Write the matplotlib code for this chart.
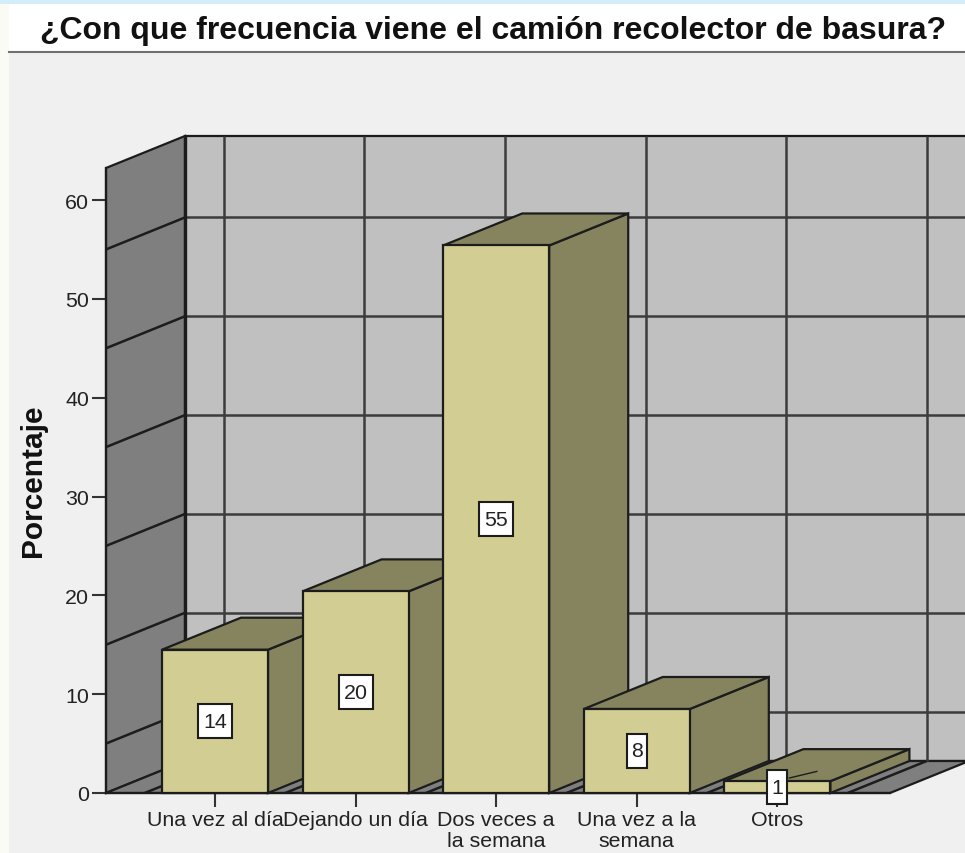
"""SPSS style 3D bar chart of garbage truck frequency."""

import matplotlib

matplotlib.use("Agg")

import matplotlib.pyplot as plt
from matplotlib.patches import Polygon, Rectangle

plt.rcParams["font.family"] = ["Liberation Sans", "DejaVu Sans"]

TITLE = "¿Con que frecuencia viene el camión recolector de basura?"
Y_LABEL = "Porcentaje"
categories = [
    "Una vez al día",
    "Dejando un día",
    "Dos veces a\nla semana",
    "Una vez a la\nsemana",
    "Otros",
]
percent = [14.5, 20.4, 55.4, 8.5, 1.2]
value_labels = ["14", "20", "55", "8", "1"]
y_ticks = [0, 10, 20, 30, 40, 50, 60]
grid_y = [5, 15, 25, 35, 45, 55]
grid_x = [-0.5, 0.5, 1.5, 2.5, 3.5, 4.5]

W, H = 965, 854
BG = "#f0f0f0"
WALL_DARK = "#7f7f7f"
WALL_LIGHT = "#c0c0c0"
BAR_FRONT = "#d2cd93"
BAR_SHADE = "#85845f"
LINE = "#1c1c1c"
GRID = "#3c3c3c"
TEXT = "#222222"

# depth of the fake 3D box, in data units
DX = 79 / 140.6
DY = 32 / 9.883
BAR_W = 0.754


def poly(ax, pts, color, z, lw=1.6):
    ax.add_patch(Polygon(pts, closed=True, facecolor=color, edgecolor=LINE, linewidth=lw,
                         joinstyle="miter", clip_on=False, zorder=z))


def seg(ax, xs, ys, z=2, lw=1.8, color=GRID):
    ax.plot(xs, ys, color=color, linewidth=lw, clip_on=False, zorder=z, solid_capstyle="butt")


fig = plt.figure(figsize=(W / 100, H / 100), dpi=100, facecolor=BG)

# title band and the screenshot remains around it
fig.add_artist(Rectangle((0, 1 - 52 / H), 1, 52 / H, transform=fig.transFigure, facecolor="white", edgecolor="none"))
fig.add_artist(Rectangle((0, 1 - 5 / H), 1, 5 / H, transform=fig.transFigure, facecolor="#d3eef8", edgecolor="none"))
fig.add_artist(Rectangle((0, 0), 9 / W, 1 - 5 / H, transform=fig.transFigure, facecolor="#fbfbf6", edgecolor="none"))
fig.add_artist(plt.Line2D([9 / W, 1], [1 - 52.5 / H] * 2, transform=fig.transFigure, color="#707070", linewidth=1.5))
fig.text(493 / W, 1 - 31 / H, TITLE, ha="center", va="center", fontsize=23, fontweight="bold", color="#111111")

ax = fig.add_axes([106 / W, 1 - 794 / H, (890 - 106) / W, (794 - 169) / H])
ax.set_facecolor("none")
ax.set_xlim((106 - 215) / 140.6, (890 - 215) / 140.6)
ax.set_ylim(0, 625 / 9.883)
x0, x1 = ax.get_xlim()
y1 = ax.get_ylim()[1]

# walls and floor
poly(ax, [(x0 + DX, DY), (x1 + DX, DY), (x1 + DX, y1 + DY), (x0 + DX, y1 + DY)], WALL_LIGHT, 1)
poly(ax, [(x0, 0), (x0 + DX, DY), (x0 + DX, y1 + DY), (x0, y1)], WALL_DARK, 1)
poly(ax, [(x0, 0), (x1, 0), (x1 + DX, DY), (x0 + DX, DY)], WALL_DARK, 1)

for g in grid_y:
    seg(ax, [x0 + DX, x1 + DX], [g + DY, g + DY])
    seg(ax, [x0, x0 + DX], [g, g + DY], color=LINE)
for g in grid_x:
    seg(ax, [g + DX, g + DX], [DY, y1 + DY])
    seg(ax, [g, g + DX], [0, DY], color=LINE)
seg(ax, [x0 + DX, x0 + DX], [DY, y1 + DY], lw=2.4, color=LINE)

# bars, painted left to right so nearer faces cover the sides
for i, h in enumerate(percent):
    left, right = i - BAR_W / 2, i + BAR_W / 2
    z = 3 + i
    poly(ax, [(right, 0), (right + DX, DY), (right + DX, h + DY), (right, h)], BAR_SHADE, z)
    poly(ax, [(left, h), (right, h), (right + DX, h + DY), (left + DX, h + DY)], BAR_SHADE, z)
    poly(ax, [(left, 0), (right, 0), (right, h), (left, h)], BAR_FRONT, z)

# value boxes sit in the middle of the front face
for i, (h, lab) in enumerate(zip(percent, value_labels)):
    bw = (34 if len(lab) > 1 else 20) / 140.6
    bh = 34 / 9.883
    if h < 3:
        seg(ax, [i + 0.08, i + 0.285], [h / 2 + 0.9, h / 2 + 1.6], z=9, lw=1, color=LINE)
    ax.add_patch(Rectangle((i - bw / 2, h / 2 - bh / 2), bw, bh, facecolor="white", edgecolor=LINE,
                           linewidth=1.5, clip_on=False, zorder=10))
    ax.text(i, h / 2, lab, ha="center", va="center", fontsize=15.4, color=TEXT, zorder=11)

for side in ("top", "right"):
    ax.spines[side].set_visible(False)
for side in ("left", "bottom"):
    ax.spines[side].set_linewidth(1.6)
    ax.spines[side].set_color(LINE)
    ax.spines[side].set_zorder(2)

ax.set_xticks(range(len(categories)), categories)
ax.set_yticks(y_ticks)
ax.tick_params(axis="both", length=10, width=1.5, color="#333333", labelsize=15.4, labelcolor=TEXT)
ax.tick_params(axis="x", pad=2.5)
ax.tick_params(axis="y", pad=2)
for t in ax.get_xticklabels():
    t.set_linespacing(1.12)

fig.text(33 / W, 1 - 481 / H, Y_LABEL, rotation=90, ha="center", va="center", fontsize=21.5,
         fontweight="bold", color="#111111")

fig.savefig("out.png", dpi=100, facecolor=fig.get_facecolor())
